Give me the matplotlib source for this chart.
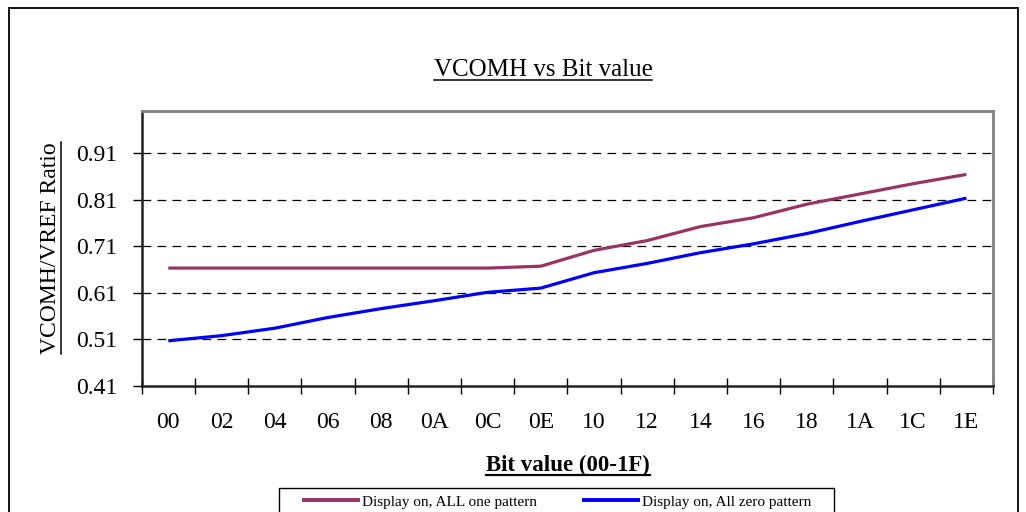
import matplotlib
matplotlib.use("Agg")
import matplotlib.pyplot as plt
from matplotlib.lines import Line2D
from matplotlib.patches import Rectangle

categories = ['00', '02', '04', '06', '08', '0A', '0C', '0E',
              '10', '12', '14', '16', '18', '1A', '1C', '1E']
all_one = [0.663, 0.663, 0.663, 0.663, 0.663, 0.663, 0.663, 0.667,
           0.701, 0.722, 0.752, 0.771, 0.800, 0.822, 0.844, 0.864]
all_zero = [0.507, 0.518, 0.534, 0.557, 0.576, 0.593, 0.611, 0.620,
            0.653, 0.673, 0.696, 0.715, 0.737, 0.763, 0.788, 0.813]
yticks = [0.41, 0.51, 0.61, 0.71, 0.81, 0.91]
series_names = ['Display on, ALL one pattern', 'Display on, All zero pattern']

plt.rcParams['font.family'] = ['Liberation Serif', 'DejaVu Serif']

W, H = 1026, 512
fig = plt.figure(figsize=(W / 100, H / 100), dpi=100)
L, R, T, B = 141.7, 993, 111, 386
ax = fig.add_axes([L / W, 1 - B / H, (R - L) / W, (B - T) / H])

x = list(range(len(categories)))
ax.plot(x, all_one, color='#993366', lw=2.3, solid_joinstyle='round',
        solid_capstyle='butt', label=series_names[0], zorder=3)
ax.plot(x, all_zero, color='#0000FF', lw=2.3, solid_joinstyle='round',
        solid_capstyle='butt', label=series_names[1], zorder=3)

ax.set_xlim(-0.5, len(categories) - 0.5)
ax.set_ylim(0.41, 1.0)

# y axis
ax.set_yticks(yticks)
ax.set_yticklabels([f'{v:.2f}' for v in yticks], fontsize=17)
ax.tick_params(axis='y', direction='out', length=6.5, width=1, pad=11, color='black')
for v in yticks[1:]:
    ax.axhline(v, color='black', lw=0.9, linestyle=(0, (7, 5)), zorder=1)

# x axis: ticks at category boundaries, labels at centers
ax.set_xticks([i - 0.5 for i in range(len(categories) + 1)])
ax.set_xticklabels([])
ax.tick_params(axis='x', which='major', direction='inout', length=11, width=1, color='black')
ax.set_xticks(x, minor=True)
ax.set_xticklabels(categories, minor=True, fontsize=17)
ax.tick_params(axis='x', which='minor', length=0, pad=19)

for side in ['left', 'bottom']:
    ax.spines[side].set_color('#222222')
    ax.spines[side].set_linewidth(1.8)
for side in ['top', 'right']:
    ax.spines[side].set_color('#808080')
    ax.spines[side].set_linewidth(2.0)

# texts
title = fig.text(543 / W, 1 - 70 / H, 'VCOMH vs Bit value', ha='center', va='center', fontsize=18)
ylab = fig.text(51 / W, 1 - 248 / H, 'VCOMH/VREF Ratio', ha='center', va='center',
                rotation=90, fontsize=17)
xlab = fig.text(568 / W, 1 - 465 / H, 'Bit value (00-1F)', ha='center', va='center',
                fontsize=16.5, fontweight='bold')

# outer chart border
fig.add_artist(Rectangle((9 / W, -0.05), (1018 - 9) / W, 1.05 - 8 / H, transform=fig.transFigure,
                         fill=False, edgecolor='black', lw=1.3))

# legend
fig.add_artist(Rectangle((279 / W, -0.05), (834 - 279) / W, 0.05 + 1 - 488 / H,
                         transform=fig.transFigure, fill=False, edgecolor='black', lw=1.0))
leg = fig.legend(loc='upper left', bbox_to_anchor=(302 / W, 1 - 495 / H), ncol=2,
                 frameon=False, fontsize=11, handlelength=3.8, handletextpad=0.1,
                 columnspacing=3.0, borderpad=0, borderaxespad=0)
for h in leg.get_lines():
    h.set_linewidth(2.8)

# underlines
fig.canvas.draw()
r = fig.canvas.get_renderer()
for t in (title, xlab):
    bb = t.get_window_extent(r)
    yb = bb.y0 + 1
    fig.add_artist(Line2D([bb.x0, bb.x1], [yb, yb], transform=None, color='black',
                          lw=1.6 if t is xlab else 1.1))
bb = ylab.get_window_extent(r)
fig.add_artist(Line2D([bb.x1 - 1, bb.x1 - 1], [bb.y0, bb.y1], transform=None, color='black', lw=1.1))

fig.savefig('out.png', dpi=100)
